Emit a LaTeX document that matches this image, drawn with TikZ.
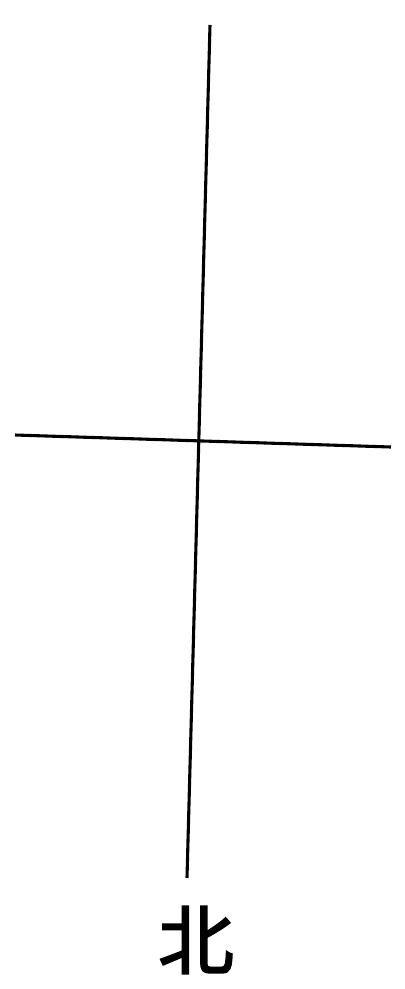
\documentclass[tikz,border=0pt]{standalone}
\usepackage{fontspec}
\newfontfamily\cjk[FakeBold=2]{Noto Sans CJK SC}
\begin{document}
\begin{tikzpicture}[x=0.025cm,y=-0.025cm,
  axisline/.style={line width=2.2pt, black},
  label/.style={font=\cjk\fontsize{54}{54}\selectfont, inner sep=0pt}]
\useasboundingbox (0,0) rectangle (405,989);
\coordinate (ntop) at (210,25);
\coordinate (nbot) at (187,878);
\coordinate (wleft) at (15,435);
\coordinate (eright) at (391,447);
\draw[axisline] (ntop) -- (nbot);
\draw[axisline] (wleft) -- (eright);
\node[label] (bei) at (196,940) {北};
\end{tikzpicture}
\end{document}
